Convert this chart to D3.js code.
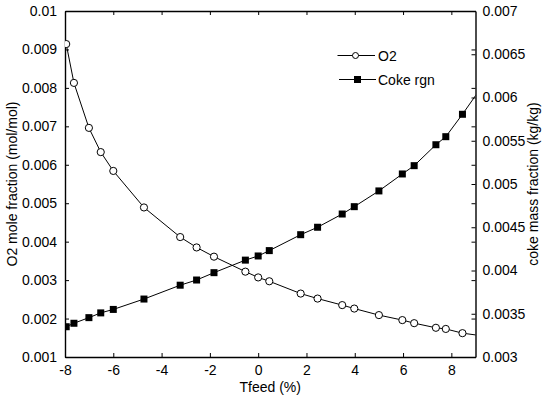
<!DOCTYPE html>
<html>
<head>
<meta charset="utf-8">
<script src="https://cdn.jsdelivr.net/npm/d3@7"></script>
<style>
  html, body { margin: 0; padding: 0; background: #fff; }
  svg { display: block; }
  text { font-family: "Liberation Sans", Arial, Helvetica, sans-serif; fill: #000; }
</style>
</head>
<body>
<svg id="chart" width="542" height="398"></svg>
<script>
// Feed temperature change (%) for each simulated case
const tfeed = [-7.95, -7.63, -7.01, -6.52, -6.0, -4.73, -3.23, -2.55, -1.83, -0.53, 0, 0.46,
               1.76, 2.46, 3.48, 3.98, 5.0, 5.97, 6.46, 7.36, 7.77, 8.46, 9.4];
// O2 mole fraction in flue gas (mol/mol), left axis
const o2 = [0.00914, 0.00813, 0.00696, 0.00633, 0.00584, 0.00489, 0.00412, 0.00385, 0.00361,
            0.00322, 0.00307, 0.00297, 0.00265, 0.00252, 0.00235, 0.00226, 0.00209, 0.00196,
            0.00188, 0.00176, 0.00173, 0.00162, 0.00154];
// Coke on regenerated catalyst (kg/kg), right axis
const coke = [0.00335, 0.00339, 0.003455, 0.00351, 0.00355, 0.00367, 0.00383, 0.00389, 0.003975,
              0.00412, 0.004168, 0.00423, 0.004414, 0.0045, 0.004653, 0.004738, 0.00492, 0.005116,
              0.005212, 0.005454, 0.005547, 0.005806, 0.00618];

const xTicks = [-8, -6, -4, -2, 0, 2, 4, 6, 8];
const xTickLabels = ["-8", "-6", "-4", "-2", "0", "2", "4", "6", "8"];
const yLeftTicks = [0.001, 0.002, 0.003, 0.004, 0.005, 0.006, 0.007, 0.008, 0.009, 0.01];
const yLeftTickLabels = ["0.001", "0.002", "0.003", "0.004", "0.005", "0.006", "0.007", "0.008", "0.009", "0.01"];
const yRightTicks = [0.003, 0.0035, 0.004, 0.0045, 0.005, 0.0055, 0.006, 0.0065, 0.007];
const yRightTickLabels = ["0.003", "0.0035", "0.004", "0.0045", "0.005", "0.0055", "0.006", "0.0065", "0.007"];
const seriesNames = ["O2", "Coke rgn"];

const svg = d3.select("#chart");
const m = { left: 65, right: 475.5, top: 11, bottom: 357 };

const x = d3.scaleLinear().domain([-8, 9]).range([m.left, m.right]);
const yL = d3.scaleLinear().domain([0.001, 0.01]).range([m.bottom, m.top]);
const yR = d3.scaleLinear().domain([0.003, 0.007]).range([m.bottom, m.top]);

const tickLen = 4;
const fontSize = "14px";

// clip region = plot box
svg.append("defs").append("clipPath").attr("id", "plotClip")
  .append("rect").attr("x", m.left).attr("y", m.top)
  .attr("width", m.right - m.left).attr("height", m.bottom - m.top);

// Bottom axis (inward ticks)
const xAxis = d3.axisBottom(x).tickValues(xTicks)
  .tickFormat((d, i) => xTickLabels[i]).tickSizeInner(-tickLen).tickSizeOuter(0).tickPadding(8);
const gx = svg.append("g").attr("transform", `translate(0,${m.bottom})`).call(xAxis);

// Top axis mirror ticks
const gxTop = svg.append("g").attr("transform", `translate(0,${m.top})`)
  .call(d3.axisTop(x).tickValues(xTicks).tickFormat("").tickSizeInner(-tickLen).tickSizeOuter(0));

// Left axis
const yAxisL = d3.axisLeft(yL).tickValues(yLeftTicks)
  .tickFormat((d, i) => yLeftTickLabels[i]).tickSizeInner(-tickLen).tickSizeOuter(0).tickPadding(8);
const gyL = svg.append("g").attr("transform", `translate(${m.left},0)`).call(yAxisL);

// Right axis
const yAxisR = d3.axisRight(yR).tickValues(yRightTicks)
  .tickFormat((d, i) => yRightTickLabels[i]).tickSizeInner(-tickLen).tickSizeOuter(0).tickPadding(7);
const gyR = svg.append("g").attr("transform", `translate(${m.right},0)`).call(yAxisR);

// Left-scale ticks mirrored on the right edge
const gyLm = svg.append("g").attr("transform", `translate(${m.right},0)`)
  .call(d3.axisRight(yL).tickValues(yLeftTicks).tickFormat("").tickSizeInner(-tickLen).tickSizeOuter(0));

[gx, gxTop, gyL, gyR, gyLm].forEach(g => {
  g.select(".domain").attr("stroke", "#000").attr("stroke-width", 1.4);
  g.selectAll(".tick line").attr("stroke", "#000").attr("stroke-width", 1);
  g.selectAll(".tick text").attr("font-size", fontSize)
    .attr("font-family", '"Liberation Sans", Arial, Helvetica, sans-serif').attr("fill", "#000");
});
// hide domains that would overlap the box so only one line is drawn per edge
gyLm.select(".domain").remove();

// Axis titles
svg.append("text").attr("x", (m.left + m.right) / 2).attr("y", 392)
  .attr("text-anchor", "middle").attr("font-size", fontSize).text("Tfeed (%)");
svg.append("text")
  .attr("transform", `translate(17,${(m.top + m.bottom) / 2}) rotate(-90)`)
  .attr("text-anchor", "middle").attr("font-size", fontSize).text("O2 mole fraction (mol/mol)");
svg.append("text")
  .attr("transform", `translate(538,${(m.top + m.bottom) / 2}) rotate(-90)`)
  .attr("text-anchor", "middle").attr("font-size", fontSize).text("coke mass fraction (kg/kg)");

// Data
const plot = svg.append("g").attr("clip-path", "url(#plotClip)");
const o2Pts = tfeed.map((t, i) => [x(t), yL(o2[i])]);
const cokePts = tfeed.map((t, i) => [x(t), yR(coke[i])]);
const line = d3.line();

plot.append("path").attr("d", line(o2Pts)).attr("fill", "none").attr("stroke", "#000").attr("stroke-width", 1);
plot.append("path").attr("d", line(cokePts)).attr("fill", "none").attr("stroke", "#000").attr("stroke-width", 1);

plot.selectAll("circle.o2").data(o2Pts).enter().append("circle").attr("class", "o2")
  .attr("cx", d => d[0]).attr("cy", d => d[1]).attr("r", 3.6)
  .attr("fill", "#fff").attr("stroke", "#000").attr("stroke-width", 1);

const sq = 7;
plot.selectAll("rect.coke").data(cokePts).enter().append("rect").attr("class", "coke")
  .attr("x", d => d[0] - sq / 2).attr("y", d => d[1] - sq / 2)
  .attr("width", sq).attr("height", sq).attr("fill", "#000");

// Legend
const leg = svg.append("g");
const legRows = [
  { y: 55.5, x1: 337.5, x2: 375, mx: 355.5, kind: "circle" },
  { y: 79.5, x1: 339, x2: 376, mx: 357.5, kind: "square" }
];
legRows.forEach((r, i) => {
  leg.append("line").attr("x1", r.x1).attr("x2", r.x2).attr("y1", r.y).attr("y2", r.y)
    .attr("stroke", "#000").attr("stroke-width", 1);
  if (r.kind === "circle") {
    leg.append("circle").attr("cx", r.mx).attr("cy", r.y).attr("r", 3)
      .attr("fill", "#fff").attr("stroke", "#000").attr("stroke-width", 1);
  } else {
    leg.append("rect").attr("x", r.mx - 3.5).attr("y", r.y - 3.5).attr("width", 7).attr("height", 7).attr("fill", "#000");
  }
  leg.append("text").attr("x", 378).attr("y", r.y + 5).attr("font-size", fontSize).text(seriesNames[i]);
});
</script>
</body>
</html>
